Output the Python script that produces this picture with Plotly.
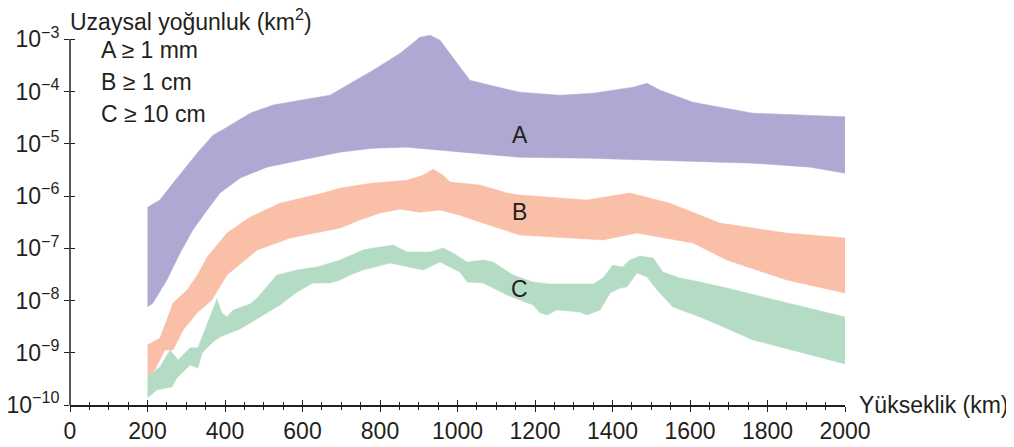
import plotly.graph_objects as go
import math

# ---- Data (altitude in km, spatial density) ----
a_up_km = [200, 232, 266, 300, 328, 369, 405, 465, 524, 594, 671, 715, 782, 852, 903, 929, 955, 988,
           1032, 1084, 1161, 1265, 1350, 1453, 1489, 1523, 1608, 1763, 2000]
a_up = [6.1e-7, 8.4e-7, 1.77e-6, 3.57e-6, 6.6e-6, 1.46e-5, 2.07e-5, 3.85e-5, 5.5e-5, 6.8e-5, 8.5e-5,
        1.32e-4, 2.55e-4, 5.4e-4, 1.09e-3, 1.19e-3, 9.6e-4, 4.5e-4, 1.64e-4, 1.32e-4, 9.7e-5, 8.5e-5,
        9.3e-5, 1.21e-4, 1.44e-4, 1.06e-4, 6.2e-5, 3.85e-5, 3.3e-5]
a_lo_km = [200, 214, 250, 284, 317, 354, 387, 439, 508, 594, 697, 782, 870, 937, 1040, 1161, 1334,
           1505, 1763, 1910, 2000]
a_lo = [7.5e-9, 8.95e-9, 2.47e-8, 8.1e-8, 2.23e-7, 5.4e-7, 1.14e-6, 2.2e-6, 3.57e-6, 4.85e-6, 6.9e-6,
        8.2e-6, 8.6e-6, 7.55e-6, 6.6e-6, 5.5e-6, 5.3e-6, 4.85e-6, 4.25e-6, 3.57e-6, 2.74e-6]

b_up_km = [200, 232, 250, 266, 302, 328, 354, 405, 465, 542, 653, 697, 782, 870, 911, 937, 963, 981,
           1058, 1128, 1161, 1334, 1445, 1548, 1677, 1850, 2000]
b_up = [1.41e-9, 1.92e-9, 4.24e-9, 8.95e-9, 1.59e-8, 3.0e-8, 6.8e-8, 1.95e-7, 3.95e-7, 7.3e-7, 1.14e-6,
        1.42e-6, 1.77e-6, 2.01e-6, 2.51e-6, 3.27e-6, 2.51e-6, 1.85e-6, 1.62e-6, 1.14e-6, 1.04e-6,
        8.4e-7, 1.14e-6, 7.3e-7, 3.03e-7, 1.95e-7, 1.57e-7]
b_lo_km = [200, 219, 245, 266, 292, 328, 366, 405, 483, 568, 697, 748, 800, 852, 903, 955, 1006, 1058,
           1161, 1375, 1463, 1608, 1695, 1850, 2000]
b_lo = [3.45e-10, 4.7e-10, 1.13e-9, 1.13e-9, 2.73e-9, 5.8e-9, 1.02e-8, 3.08e-8, 9.25e-8, 1.57e-7,
        2.43e-7, 3.46e-7, 4.71e-7, 5.6e-7, 4.9e-7, 5.4e-7, 4.3e-7, 3.17e-7, 1.79e-7, 1.44e-7, 1.95e-7,
        1.26e-7, 5.95e-8, 2.47e-8, 1.39e-8]

c_up_km = [200, 232, 258, 279, 310, 330, 348, 366, 379, 392, 405, 421, 465, 483, 508, 534, 586, 637,
           697, 756, 782, 834, 870, 929, 963, 988, 1025, 1066, 1092, 1143, 1195, 1239, 1350, 1375, 1401,
           1425, 1445, 1471, 1505, 1530, 1574, 1626, 1695, 1850, 2000]
c_up = [3.45e-10, 5.35e-10, 1.13e-9, 7.3e-10, 1.24e-9, 1.24e-9, 2.73e-9, 6.0e-9, 1.07e-8, 5.8e-9,
        4.85e-9, 6.6e-9, 8.6e-9, 1.12e-8, 1.81e-8, 3.08e-8, 3.83e-8, 4.38e-8, 5.95e-8, 9.25e-8, 1.01e-7,
        1.15e-7, 8.45e-8, 8.45e-8, 1.01e-7, 8.1e-8, 5.45e-8, 5.95e-8, 5.45e-8, 3.08e-8, 2.26e-8,
        2.07e-8, 2.07e-8, 2.69e-8, 4.78e-8, 4.38e-8, 5.95e-8, 7.1e-8, 6.5e-8, 3.5e-8, 2.69e-8, 2.26e-8,
        1.73e-8, 8.95e-9, 4.85e-9]
c_lo_km = [200, 225, 263, 276, 310, 330, 341, 369, 387, 439, 498, 542, 586, 627, 671, 697, 723, 756,
           826, 911, 955, 1006, 1025, 1066, 1128, 1195, 1213, 1231, 1257, 1316, 1334, 1368, 1394, 1419,
           1437, 1463, 1489, 1515, 1556, 1626, 1763, 2000]
c_lo = [1.37e-10, 1.95e-10, 2.22e-10, 3.3e-10, 5.85e-10, 5.1e-10, 9.9e-10, 1.61e-9, 2.0e-9, 2.85e-9,
        5.3e-9, 8.2e-9, 1.46e-8, 2.16e-8, 2.16e-8, 2.47e-8, 3.08e-8, 3.83e-8, 5.2e-8, 3.83e-8, 5.45e-8,
        3.5e-8, 2.26e-8, 2.16e-8, 1.27e-8, 8.2e-9, 5.8e-9, 5.3e-9, 6.6e-9, 6.0e-9, 5.3e-9, 6.6e-9,
        1.39e-8, 1.73e-8, 1.81e-8, 3.36e-8, 2.81e-8, 1.59e-8, 7.5e-9, 4.85e-9, 1.76e-9, 6.1e-10]

x_major = list(range(0, 2001, 200))
y_major = [1e-10, 1e-9, 1e-8, 1e-7, 1e-6, 1e-5, 1e-4, 1e-3]
y_ticktext = ["10<sup>−10</sup>", "10<sup>−9</sup>", "10<sup>−8</sup>", "10<sup>−7</sup>",
              "10<sup>−6</sup>", "10<sup>−5</sup>", "10<sup>−4</sup>", "10<sup>−3</sup>"]
legend_lines = ["A ≥ 1 mm", "B ≥ 1 cm", "C ≥ 10 cm"]
band_names = ["A", "B", "C"]
band_label_x = 1160
band_label_y = [1.46e-5, 4.9e-7, 1.66e-8]

colors = ["#aea9d3", "#f9bfa7", "#b4dcc4"]

FONT = "Liberation Sans, Arial, Helvetica, sans-serif"
TXT = "#231f20"
FS = 23

Y_LOG_MIN, Y_LOG_MAX = -10, -2.88      # a little headroom so the A peak is not clipped
Y_AXIS_TOP = -3                        # axis line ends at 10^-3

fig = go.Figure()


def band(xu, yu, xl, yl, color, name):
    return go.Scatter(x=xu + xl[::-1], y=yu + yl[::-1], fill="toself", fillcolor=color,
                      line=dict(width=0.5, color=color), mode="lines", hoverinfo="skip",
                      showlegend=False, name=name)


fig.add_trace(band(a_up_km, a_up, a_lo_km, a_lo, colors[0], "A"))
fig.add_trace(band(b_up_km, b_up, b_lo_km, b_lo, colors[1], "B"))
fig.add_trace(band(c_up_km, c_up, c_lo_km, c_lo, colors[2], "C"))
# invisible trace for the overlay axes (inner half of crossing ticks)
fig.add_trace(go.Scatter(x=[1000], y=[1e-5], xaxis="x2", yaxis="y2", mode="markers",
                         marker=dict(opacity=0), hoverinfo="skip", showlegend=False))

common_x = dict(range=[0, 2000], tickvals=x_major, showgrid=False, zeroline=False,
                tickcolor=TXT, tickwidth=1.3, ticklen=5, automargin=False)
common_y = dict(type="log", range=[Y_LOG_MIN, Y_LOG_MAX], tickvals=y_major, showgrid=False,
                zeroline=False, tickcolor=TXT, tickwidth=1.3, ticklen=5, automargin=False)

# page body has an 8px margin, so the figure is sized/offset to fit the 1014x447 window
fig.update_layout(
    width=1006, height=439,
    margin=dict(l=62, r=169, t=25, b=42, autoexpand=False),
    paper_bgcolor="white", plot_bgcolor="white",
    font=dict(family=FONT, size=FS, color=TXT),
    showlegend=False,
    xaxis=dict(**common_x, ticks="outside", showline=True, linecolor=TXT, linewidth=1.5,
               ticktext=[str(v) for v in x_major], tickfont=dict(size=FS, color=TXT),
               minor=dict(dtick=50, tick0=0, ticks="outside", ticklen=3, tickwidth=1, tickcolor=TXT)),
    xaxis2=dict(**common_x, ticks="inside", overlaying="x", anchor="y", side="bottom",
                showline=False, showticklabels=False,
                minor=dict(dtick=50, tick0=0, ticks="inside", ticklen=3, tickwidth=1, tickcolor=TXT)),
    yaxis=dict(**common_y, ticks="outside", showline=False,
               ticktext=y_ticktext, tickfont=dict(size=FS, color=TXT)),
    yaxis2=dict(**common_y, ticks="inside", overlaying="y", anchor="x", side="left",
                showline=False, showticklabels=False),
)

# y axis line from 10^-10 to 10^-3
y_top_paper = (Y_AXIS_TOP - Y_LOG_MIN) / (Y_LOG_MAX - Y_LOG_MIN)
fig.add_shape(type="line", xref="paper", yref="paper", x0=0, x1=0, y0=0, y1=y_top_paper,
              line=dict(color=TXT, width=1.5))

PH = 405 - 33  # plot height in px, used to place the paper-anchored texts
ann = []
ann.append(dict(text="Uzaysal yoğunluk (km<sup>2</sup>)", xref="paper", yref="paper",
                x=-0.003, y=(405 - 20) / PH, xanchor="left", yanchor="middle",
                showarrow=False, font=dict(size=FS, color=TXT)))
ann.append(dict(text="Yükseklik (km)", xref="paper", yref="paper", x=1.016, y=0,
                xanchor="left", yanchor="middle", showarrow=False, font=dict(size=FS, color=TXT)))
for t, py in zip(legend_lines, [50, 82, 114]):
    ann.append(dict(text=t, xref="paper", yref="paper", x=0.037, y=(405 - py) / PH,
                    xanchor="left", yanchor="middle", showarrow=False,
                    font=dict(size=FS, color=TXT)))
for n, yv in zip(band_names, band_label_y):
    ann.append(dict(text=n, x=band_label_x, y=math.log10(yv), xref="x", yref="y",
                    showarrow=False, font=dict(size=FS, color=TXT)))
fig.update_layout(annotations=ann)

fig.write_html("out.html")
